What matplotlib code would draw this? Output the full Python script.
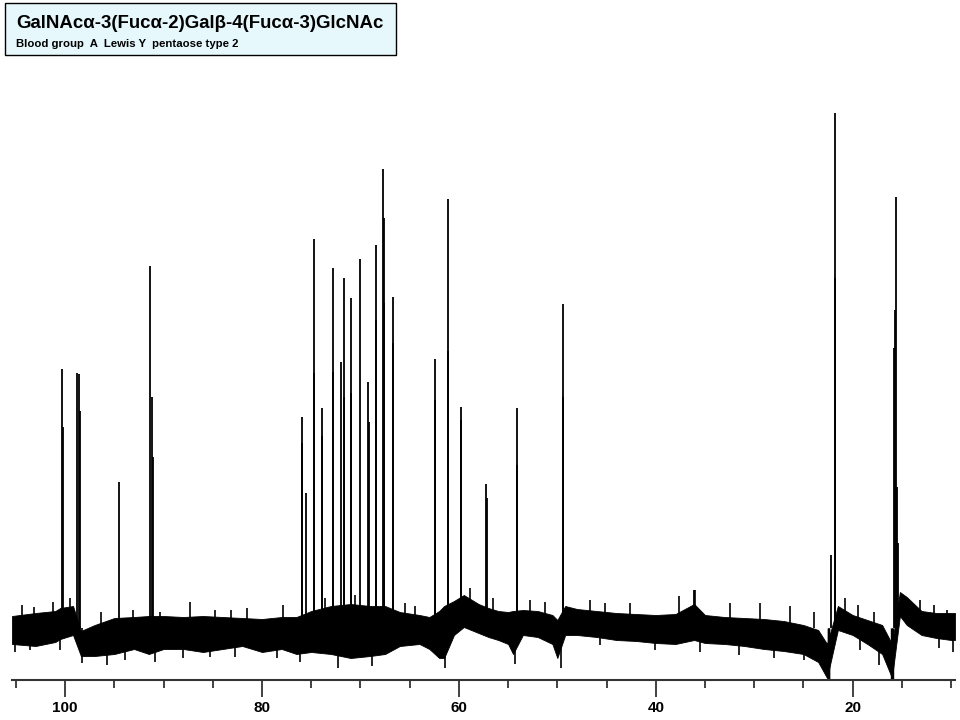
import matplotlib.pyplot as plt
from matplotlib.patches import Rectangle
from matplotlib.ticker import MultipleLocator

plt.rcParams['font.family'] = ['Liberation Sans', 'DejaVu Sans']

title = 'GalNAcα-3(Fucα-2)Galβ-4(Fucα-3)GlcNAc'
subtitle = 'Blood group  A  Lewis Y  pentaose type 2'

# core of the baseline noise band (ppm, upper, lower)
band_ppm = [105.4, 103, 101, 100.5, 99.2, 98.4, 97, 95, 93, 91.5, 90, 88, 86, 84,
            82, 80, 78, 76.5, 75, 73, 71, 69, 67.5, 66, 64, 63, 62, 61.5, 60.5,
            59.5, 58, 57, 56, 55, 54.5, 53.5, 52, 50.5, 50, 49.2, 48, 46, 44, 42,
            40, 38, 36.1, 35, 33, 31, 29, 27, 25, 23.5, 22.6, 21.5, 20, 18.5, 17,
            16, 15.2, 14.5, 13, 11.5, 10, 9.6]
band_upper = [12, 15, 17, 20, 22, -3, 3, 10, 11, 12, 12, 11, 12, 11,
              10, 9, 11, 11, 17, 22, 24, 22, 22, 16, 13, 11, 17, 22, 27,
              33, 24, 20, 17, 16, 17, 18, 17, 13, 8, 22, 19, 17, 15, 14,
              13, 14, 24, 13, 11, 10, 9, 7, 3, -2, -16, 22, 13, 8, 3,
              -16, 36, 31, 17, 15, 15, 15]
band_lower = [-16, -18, -14, -11, -7, -28, -28, -26, -21, -26, -21, -21, -24, -21,
              -18, -24, -21, -26, -24, -26, -30, -28, -26, -18, -16, -21, -30, -30, -7,
              1, -5, -9, -12, -16, -26, -7, -9, -16, -30, -7, -7, -9, -12, -13,
              -15, -16, -12, -15, -16, -18, -21, -23, -26, -34, -50, -2, -7, -16, -26,
              -50, 12, 3, -7, -10, -12, -12]

# single noise spikes sticking out of the band (ppm, tip)
spike_up_ppm = [104.4, 103.2, 101.2, 99.5, 96.4, 93.1, 90.4, 87.3, 84.8, 83.2, 81.5,
                77.9, 73.6, 70.6, 65.5, 64.5, 58.9, 56.5, 52.8, 51.3, 46.7, 45.2,
                42.6, 37.6, 36.0, 32.5, 29.4, 26.4, 23.9, 20.8, 19.5, 17.8, 13.2,
                11.7, 10.4]
spike_up_tip = [23, 21, 26, 30, 16, 18, 16, 26, 18, 18, 20,
                23, 30, 33, 25, 22, 40, 30, 28, 26, 28, 25,
                25, 32, 38, 25, 25, 22, 16, 30, 23, 16, 28,
                23, 18]
spike_dn_ppm = [105.1, 103.6, 100.5, 98.3, 95.7, 93.9, 90.9, 88.0, 85.3, 82.7, 78.5,
                76.1, 72.3, 68.8, 61.4, 54.3, 49.6, 45.7, 40.1, 35.5, 31.5, 28.0,
                24.9, 19.3, 17.3, 11.2, 9.8]
spike_dn_tip = [-24, -22, -22, -35, -37, -32, -34, -30, -29, -29, -30,
                -34, -40, -38, -40, -36, -40, -17, -22, -24, -27, -30,
                -32, -22, -37, -20, -24]

# peak tops (ppm, height above baseline)
peak_ppm = [100.3, 100.25, 98.8, 98.6, 98.45, 94.55, 91.37, 91.17, 91.07,
            75.94, 75.9, 75.56, 74.72, 74.68, 73.9, 73.86, 72.83, 72.8, 72.0,
            71.7, 71.66, 70.96, 70.92, 70.0, 69.2, 69.16, 68.43, 68.39,
            67.68, 67.64, 67.6, 66.73, 66.69, 62.47, 62.43, 61.15, 61.11,
            59.8, 59.76, 57.2, 57.16, 54.14, 54.1, 49.44, 49.4, 36.1,
            22.16, 21.83, 21.8, 21.76, 15.56, 15.66, 15.83, 15.48, 15.38]
peak_height = [259, 201, 255, 254, 217, 146, 362, 231, 171,
               211, 185, 135, 389, 255, 220, 192, 360, 256, 266,
               350, 231, 330, 235, 369, 246, 206, 383, 308,
               459, 410, 325, 331, 285, 269, 228, 429, 277,
               221, 208, 144, 130, 220, 163, 324, 231, 38,
               73, 515, 350, 56, 431, 318, 280, 141, 85]

# negative spikes reaching down to the axis
dip_ppm = [22.55, 22.5, 22.45, 22.4, 16.1, 16.0, 15.95, 15.9]
dip_depth = [-52, -52, -52, -52, -52, -52, -52, -52]

fig = plt.figure(figsize=(9.6, 7.2), dpi=100)
ax = fig.add_axes([12 / 960, 1 - 680 / 720, 943 / 960, 580 / 720])

ax.fill_between(band_ppm, band_lower, band_upper, color='black', linewidth=0.6)
ax.vlines(spike_up_ppm, 0, spike_up_tip, color='black', linewidth=1.2)
ax.vlines(spike_dn_ppm, 0, spike_dn_tip, color='black', linewidth=1.2)
ax.vlines(peak_ppm, 0, peak_height, color='black', linewidth=1.3)
ax.vlines(dip_ppm, 0, dip_depth, color='black', linewidth=1.0)

ax.set_xlim(105.4, 9.6)
ax.set_ylim(-52, 528)

for side in ['top', 'right', 'left']:
    ax.spines[side].set_visible(False)
ax.spines['bottom'].set_linewidth(1.5)
ax.spines['bottom'].set_color('#333333')
ax.set_yticks([])

ax.xaxis.set_major_locator(MultipleLocator(20))
ax.xaxis.set_minor_locator(MultipleLocator(5))
ax.tick_params(axis='x', which='major', length=12, width=1.3, color='#333333',
               labelsize=11, pad=3)
ax.tick_params(axis='x', which='minor', length=6, width=1.3, color='#333333')
for lbl in ax.get_xticklabels():
    lbl.set_fontweight('bold')

# title box in the top left corner
fig.patches.append(Rectangle((5 / 960, 1 - 55 / 720), 391 / 960, 52 / 720,
                             transform=fig.transFigure, facecolor='#E6F8FC',
                             edgecolor='black', linewidth=1.0))
fig.text(16 / 960, 1 - 24 / 720, title, fontsize=13.4, fontweight='bold',
         va='center', ha='left')
fig.text(16 / 960, 1 - 44 / 720, subtitle, fontsize=8.2, fontweight='bold',
         va='center', ha='left')

fig.savefig('out.png', dpi=100)
